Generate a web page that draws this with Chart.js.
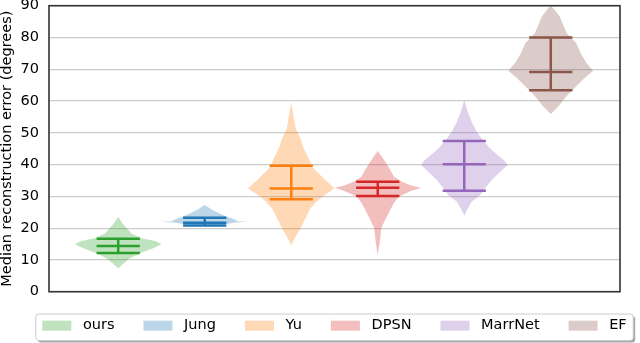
<!DOCTYPE html>
<html>
<head>
<meta charset="utf-8">
<script src="https://cdn.jsdelivr.net/npm/chart.js@4.4.1/dist/chart.umd.min.js"></script>
<style>
  html, body { margin: 0; padding: 0; background: #fff; }
</style>
</head>
<body>
<canvas id="myChart" width="640" height="343"></canvas>
<script>
// methods compared, one violin each
const methods = ['ours', 'Jung', 'Yu', 'DPSN', 'MarrNet', 'EF'];

// the three horizontal marks of each violin (degrees)
const lowerValues  = [12.2, 20.8, 29.1, 30.1, 31.8, 63.4];
const medianValues = [14.4, 21.7, 32.5, 32.7, 40.1, 69.1];
const upperValues  = [16.7, 23.3, 39.6, 34.6, 47.4, 80.0];

// violin outlines: error level (degrees) and relative width (1 = widest)
const oursLevels = [7.4, 8.9, 10.5, 12.1, 13.7, 14.9, 15.9, 16.8, 18.4, 20.0, 21.5, 23.6];
const oursWidths = [0, 0.12, 0.27, 0.5, 0.81, 1.0, 0.87, 0.54, 0.3, 0.2, 0.1, 0];

const jungLevels = [20.6, 21.2, 21.8, 22.0, 22.2, 22.6, 23.4, 24.4, 25.7, 27.3];
const jungWidths = [0, 0.45, 0.72, 1.0, 0.75, 0.72, 0.55, 0.38, 0.18, 0];

const yuLevels = [14.7, 17.3, 19.9, 23.1, 26.2, 28.9, 31.0, 32.5, 33.8, 35.1, 36.7, 39.3, 42.0, 45.1, 48.3, 51.4, 55.6, 59.6];
const yuWidths = [0, 0.1, 0.21, 0.33, 0.44, 0.63, 0.83, 1.0, 0.9, 0.79, 0.67, 0.48, 0.4, 0.29, 0.21, 0.1, 0.05, 0];

const dpsnLevels = [11.5, 15.7, 19.9, 22.0, 25.2, 27.8, 29.9, 31.7, 32.7, 33.4, 34.6, 36.2, 38.8, 42.0, 44.3];
const dpsnWidths = [0, 0.05, 0.08, 0.15, 0.27, 0.37, 0.48, 0.77, 1.0, 0.77, 0.56, 0.38, 0.27, 0.12, 0];

const marrLevels = [23.9, 25.7, 28.3, 30.4, 32.5, 35.1, 37.8, 39.9, 41.4, 43.0, 45.1, 47.2, 50.3, 53.5, 56.6, 60.3];
const marrWidths = [0, 0.06, 0.17, 0.37, 0.48, 0.63, 0.84, 1.0, 0.92, 0.77, 0.6, 0.46, 0.29, 0.17, 0.08, 0];

const efLevels = [55.9, 58.2, 60.3, 62.4, 64.5, 67.1, 69.5, 71.9, 75.0, 78.2, 81.3, 84.5, 86.5, 88.6, 90.0];
const efWidths = [0, 0.17, 0.29, 0.42, 0.58, 0.77, 0.98, 0.83, 0.69, 0.59, 0.37, 0.27, 0.21, 0.1, 0];

const yTicks = [0, 10, 20, 30, 40, 50, 60, 70, 80, 90];

const violinLevels = [oursLevels, jungLevels, yuLevels, dpsnLevels, marrLevels, efLevels];
const violinWidths = [oursWidths, jungWidths, yuWidths, dpsnWidths, marrWidths, efWidths];

const colors = ['#2ca02c', '#1f77b4', '#ff7f0e', '#d62728', '#9467bd', '#8c564b'];
const FONT = 'DejaVu Sans';

function fade(hex, a) {
    const n = parseInt(hex.slice(1), 16);
    return 'rgba(' + (n >> 16) + ',' + ((n >> 8) & 255) + ',' + (n & 255) + ',' + a + ')';
}

// violin bodies: right side going up, left side coming back down
const violinSets = methods.map((name, i) => {
    const pos = i + 1;
    const lv = violinLevels[i], wd = violinWidths[i];
    const right = lv.map((v, k) => ({ x: pos + wd[k] * 0.5, y: v }));
    const left = lv.map((v, k) => ({ x: pos - wd[k] * 0.5, y: v })).reverse();
    return {
        label: name,
        data: right.concat(left),
        showLine: true,
        fill: 'shape',
        backgroundColor: fade(colors[i], 0.3),
        borderColor: 'transparent',
        borderWidth: 0,
        pointRadius: 0,
        order: 2
    };
});

// lower / median / upper bars and the vertical line
const markSets = methods.map((name, i) => {
    const p = i + 1, w = 0.25;
    const lo = lowerValues[i], md = medianValues[i], hi = upperValues[i];
    return {
        label: name + ' marks',
        data: [
            { x: p - w, y: hi }, { x: p + w, y: hi }, { x: p, y: null },
            { x: p - w, y: md }, { x: p + w, y: md }, { x: p, y: null },
            { x: p - w, y: lo }, { x: p + w, y: lo }, { x: p, y: null },
            { x: p, y: lo }, { x: p, y: hi }
        ],
        showLine: true,
        spanGaps: false,
        fill: false,
        borderColor: colors[i],
        borderWidth: 2.5,
        pointRadius: 0,
        order: 1
    };
});

// axes box + matplotlib-like legend under the plot
const boxPlugin = {
    id: 'boxAndLegend',
    afterDatasetsDraw(chart) {
        const { ctx, chartArea: a } = chart;
        ctx.save();
        ctx.strokeStyle = '#333';
        ctx.lineWidth = 1.6;
        ctx.strokeRect(a.left, a.top, a.right - a.left, a.bottom - a.top);
        ctx.restore();
    },
    afterDraw(chart) {
        const { ctx, chartArea: a } = chart;
        const items = chart.data.datasets.filter(d => d.fill === 'shape');
        const swW = 29, swH = 10, textGap = 11.6, colGap = 29, pad = 6.5;
        ctx.save();
        ctx.font = '14.5px "' + FONT + '"';
        const tw = items.map(d => ctx.measureText(d.label).width);
        const total = tw.reduce((s, v) => s + v, 0) + items.length * (swW + textGap) + (items.length - 1) * colGap;
        const cx = (a.left + a.right) / 2;
        const bx = cx - total / 2 - pad, bw = total + 2 * pad;
        const by = a.bottom + 22.3, bh = 26.5;

        ctx.fillStyle = 'rgba(0,0,0,0.35)';
        ctx.beginPath();
        ctx.roundRect(bx + 2, by + 2, bw, bh, 3);
        ctx.fill();
        ctx.fillStyle = '#fff';
        ctx.strokeStyle = '#cccccc';
        ctx.lineWidth = 1;
        ctx.beginPath();
        ctx.roundRect(bx, by, bw, bh, 3);
        ctx.fill();
        ctx.stroke();

        const cy = by + 11.7;
        let x = bx + pad;
        ctx.textBaseline = 'middle';
        ctx.textAlign = 'left';
        items.forEach((d, k) => {
            ctx.fillStyle = d.backgroundColor;
            ctx.fillRect(x, cy - swH / 2, swW, swH);
            ctx.fillStyle = '#000';
            ctx.fillText(d.label, x + swW + textGap, cy);
            x += swW + textGap + tw[k] + colGap;
        });
        ctx.restore();
    }
};

const ctx = document.getElementById('myChart').getContext('2d');
const myChart = new Chart(ctx, {
    type: 'scatter',
    data: { datasets: violinSets.concat(markSets) },
    options: {
        responsive: false,
        animation: false,
        events: [],
        layout: { padding: { left: 0, right: 20, top: 5.7, bottom: 51.3 } },
        plugins: { legend: { display: false }, tooltip: { enabled: false } },
        scales: {
            x: { type: 'linear', min: 0.2, max: 6.8, display: false },
            y: {
                min: 0,
                max: 90,
                afterBuildTicks: s => { s.ticks = yTicks.map(v => ({ value: v })); },
                afterFit: s => { s.width = 49; s.paddingTop = 0; s.paddingBottom = 0; },
                ticks: { color: '#000', padding: 10, font: { family: FONT, size: 14.5 } },
                grid: { color: '#cccccc', lineWidth: 1.2, drawTicks: false },
                border: { display: false },
                title: {
                    display: true,
                    text: 'Median reconstruction error (degrees)',
                    color: '#000',
                    padding: { top: -1, bottom: 0 },
                    font: { family: FONT, size: 14.5 }
                }
            }
        }
    },
    plugins: [boxPlugin]
});
</script>
</body>
</html>
